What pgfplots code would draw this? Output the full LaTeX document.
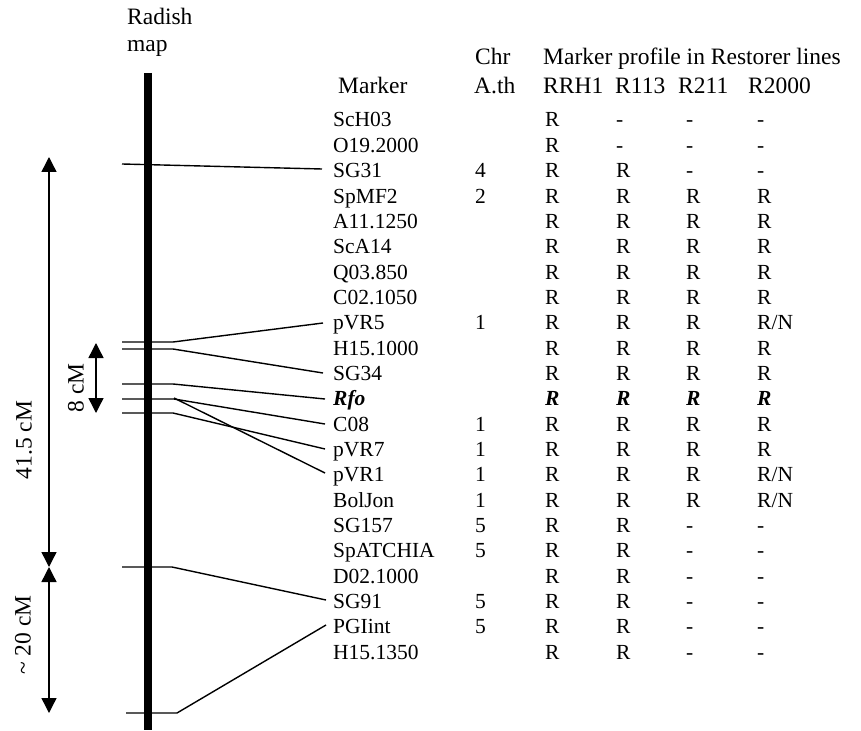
\documentclass[border=0pt]{standalone}
\usepackage{fontspec}
\setmainfont{Liberation Serif}
\usepackage{pgfplots}
\pgfplotsset{compat=1.18}
\usetikzlibrary{arrows.meta}

\newcommand{\bodyfont}{\fontsize{21.5}{26}\selectfont}
\newcommand{\headfont}{\fontsize{23.5}{27}\selectfont}
% one table row: baseline y, marker, Chr A.th, RRH1, R113, R211, R2000
\newcommand{\mrow}[7]{\node[anchor=base west, inner sep=0pt, font=\bodyfont] at (axis cs:333,#1)
  {\makebox[142pt][l]{#2}\makebox[70pt][l]{#3}\makebox[71pt][l]{#4}\makebox[70pt][l]{#5}\makebox[71pt][l]{#6}#7};}
\newcommand{\hd}[3]{\node[anchor=base west, inner sep=0pt, font=\headfont] at (axis cs:#1,#2) {#3};}

\begin{document}
\begin{tikzpicture}
\begin{axis}[
  width=861pt, height=730pt, scale only axis,
  xmin=0, xmax=861, ymin=0, ymax=730, y dir=reverse,
  hide axis, clip=false,
]
% chromosome bar
\addplot[black, line width=7.5pt] coordinates {(148,73) (148,730)};
% connector lines
\addplot[black, line width=1.4pt] coordinates {(122,164) (322,169)};
\addplot[black, line width=1.4pt] coordinates {(122,342) (173,342) (323,323)};
\addplot[black, line width=1.4pt] coordinates {(122,349) (173,349) (323,373)};
\addplot[black, line width=1.4pt] coordinates {(122,384) (173,384) (325,399)};
\addplot[black, line width=1.4pt] coordinates {(122,399) (174,399) (325,424)};
\addplot[black, line width=1.4pt] coordinates {(174,398) (325,473)};
\addplot[black, line width=1.4pt] coordinates {(122,413) (173,413) (325,449)};
\addplot[black, line width=1.4pt] coordinates {(122,567) (172,567) (326,600)};
\addplot[black, line width=1.4pt] coordinates {(126,713) (177,713) (326,625)};
% distance arrows
\addplot[black, line width=1.4pt, {Triangle[width=15pt,length=15pt]}-{Triangle[width=15pt,length=15pt]}] coordinates {(49,157) (49,567)};
\addplot[black, line width=1.4pt, {Triangle[width=15pt,length=15pt]}-{Triangle[width=15pt,length=15pt]}] coordinates {(49,567) (49,713)};
\addplot[black, line width=1.4pt, {Triangle[width=15pt,length=15pt]}-{Triangle[width=15pt,length=15pt]}] coordinates {(96,343) (96,413)};
\node[rotate=90, font=\headfont] at (axis cs:24,440) {41.5 cM};
\node[rotate=90, font=\headfont] at (axis cs:23,635) {\textasciitilde\ 20 cM};
\node[rotate=90, font=\headfont] at (axis cs:76,388) {8 cM};
% headers
\hd{127}{25}{Radish}
\hd{127}{52}{map}
\hd{475}{65}{Chr}
\hd{543}{65}{Marker profile in Restorer lines}
\hd{338}{94}{Marker}
\hd{474}{94}{A.th}
\hd{543}{94}{RRH1}
\hd{615}{94}{R113}
\hd{678}{94}{R211}
\hd{748}{94}{R2000}
% table
\mrow{127.0}{ScH03}{}{R}{-}{-}{-}
\mrow{152.3}{O19.2000}{}{R}{-}{-}{-}
\mrow{177.7}{SG31}{4}{R}{R}{-}{-}
\mrow{203.0}{SpMF2}{2}{R}{R}{R}{R}
\mrow{228.3}{A11.1250}{}{R}{R}{R}{R}
\mrow{253.7}{ScA14}{}{R}{R}{R}{R}
\mrow{279.0}{Q03.850}{}{R}{R}{R}{R}
\mrow{304.3}{C02.1050}{}{R}{R}{R}{R}
\mrow{329.7}{pVR5}{1}{R}{R}{R}{R/N}
\mrow{355.0}{H15.1000}{}{R}{R}{R}{R}
\mrow{380.3}{SG34}{}{R}{R}{R}{R}
\mrow{405.7}{\textbf{\textit{Rfo}}}{}{\textbf{\textit{R}}}{\textbf{\textit{R}}}{\textbf{\textit{R}}}{\textbf{\textit{R}}}
\mrow{431.0}{C08}{1}{R}{R}{R}{R}
\mrow{456.3}{pVR7}{1}{R}{R}{R}{R}
\mrow{481.7}{pVR1}{1}{R}{R}{R}{R/N}
\mrow{507.0}{BolJon}{1}{R}{R}{R}{R/N}
\mrow{532.3}{SG157}{5}{R}{R}{-}{-}
\mrow{557.7}{SpATCHIA}{5}{R}{R}{-}{-}
\mrow{583.0}{D02.1000}{}{R}{R}{-}{-}
\mrow{608.3}{SG91}{5}{R}{R}{-}{-}
\mrow{633.7}{PGIint}{5}{R}{R}{-}{-}
\mrow{659.0}{H15.1350}{}{R}{R}{-}{-}
\end{axis}
\pgfresetboundingbox
\path (current axis.south west) rectangle (current axis.north east);
\end{tikzpicture}
\end{document}
